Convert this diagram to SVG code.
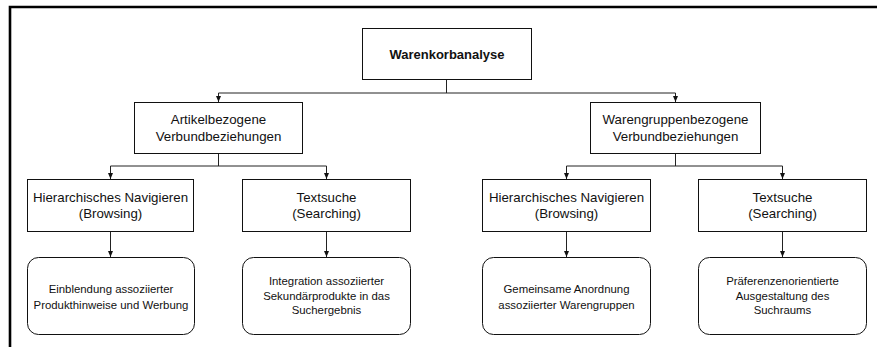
<svg xmlns="http://www.w3.org/2000/svg" width="877" height="347" viewBox="0 0 877 347">
<style>
.box{fill:#fff;stroke:#111;stroke-width:1}
.t{font-family:"Liberation Sans",Arial,sans-serif;font-size:13.3px;fill:#111;text-anchor:middle}
.s{font-family:"Liberation Sans",Arial,sans-serif;font-size:11.4px;fill:#111;text-anchor:middle}
.b{font-family:"Liberation Sans",Arial,sans-serif;font-size:13px;font-weight:bold;fill:#111;text-anchor:middle}
.c{fill:none;stroke:#222;stroke-width:1}
</style>
<defs>
<marker id="ah" viewBox="0 0 6 6" refX="6" refY="3" markerWidth="6" markerHeight="6" markerUnits="userSpaceOnUse" orient="auto">
<path d="M0,0.5 L6,3 L0,5.5 Z" fill="#111"/>
</marker>
</defs>
<rect width="877" height="347" fill="#fff"/>
<path d="M10,347 V7 H877" fill="none" stroke="#000" stroke-width="2.6"/>
<g id="connectors">
<path class="c" d="M446.5,79 V93 M218.5,93 H675.5"/>
<path class="c" d="M218.5,93 V102" marker-end="url(#ah)"/>
<path class="c" d="M675.5,93 V102" marker-end="url(#ah)"/>
<path class="c" d="M218.5,153 V166 M110.5,166 H326.5"/>
<path class="c" d="M110.5,166 V179" marker-end="url(#ah)"/>
<path class="c" d="M326.5,166 V179" marker-end="url(#ah)"/>
<path class="c" d="M675.5,153 V166 M566.5,166 H782.5"/>
<path class="c" d="M566.5,166 V179" marker-end="url(#ah)"/>
<path class="c" d="M782.5,166 V179" marker-end="url(#ah)"/>
<path class="c" d="M110.5,232 V257" marker-end="url(#ah)"/>
<path class="c" d="M326.5,232 V257" marker-end="url(#ah)"/>
<path class="c" d="M566.5,232 V257" marker-end="url(#ah)"/>
<path class="c" d="M782.5,232 V257" marker-end="url(#ah)"/>
</g>
<g id="root">
<rect class="box" x="362.5" y="28.5" width="169" height="51"/>
<text class="b" x="447" y="58.5">Warenkorbanalyse</text>
</g>
<g id="artikel">
<rect class="box" x="134.5" y="102.5" width="168" height="51"/>
<text class="t" x="218.5" y="124">Artikelbezogene</text>
<text class="t" x="218.5" y="141">Verbundbeziehungen</text>
</g>
<g id="warengruppen">
<rect class="box" x="590.5" y="102.5" width="170" height="51"/>
<text class="t" x="675.5" y="124">Warengruppenbezogene</text>
<text class="t" x="675.5" y="141">Verbundbeziehungen</text>
</g>
<g id="browsing1">
<rect class="box" x="27.5" y="179.5" width="166" height="52"/>
<text class="t" x="110.5" y="202">Hierarchisches Navigieren</text>
<text class="t" x="110.5" y="218">(Browsing)</text>
</g>
<g id="searching1">
<rect class="box" x="242.5" y="179.5" width="168" height="52"/>
<text class="t" x="326.5" y="202">Textsuche</text>
<text class="t" x="326.5" y="218">(Searching)</text>
</g>
<g id="browsing2">
<rect class="box" x="482.5" y="179.5" width="168" height="52"/>
<text class="t" x="566.5" y="202">Hierarchisches Navigieren</text>
<text class="t" x="566.5" y="218">(Browsing)</text>
</g>
<g id="searching2">
<rect class="box" x="698.5" y="179.5" width="168" height="52"/>
<text class="t" x="782.5" y="202">Textsuche</text>
<text class="t" x="782.5" y="218">(Searching)</text>
</g>
<g id="einblendung">
<rect class="box" x="27.5" y="257.5" width="167" height="77" rx="11" ry="11"/>
<text class="s" x="111" y="293">Einblendung assoziierter</text>
<text class="s" x="111" y="309">Produkthinweise und Werbung</text>
</g>
<g id="integration">
<rect class="box" x="242.5" y="257.5" width="168" height="77" rx="11" ry="11"/>
<text class="s" x="326.5" y="285">Integration assoziierter</text>
<text class="s" x="326.5" y="299.5">Sekundärprodukte in das</text>
<text class="s" x="326.5" y="314">Suchergebnis</text>
</g>
<g id="anordnung">
<rect class="box" x="482.5" y="257.5" width="168" height="77" rx="11" ry="11"/>
<text class="s" x="566.5" y="293">Gemeinsame Anordnung</text>
<text class="s" x="566.5" y="309">assoziierter Warengruppen</text>
</g>
<g id="suchraum">
<rect class="box" x="698.5" y="257.5" width="168" height="77" rx="11" ry="11"/>
<text class="s" x="782.5" y="285">Präferenzenorientierte</text>
<text class="s" x="782.5" y="299.5">Ausgestaltung des</text>
<text class="s" x="782.5" y="314">Suchraums</text>
</g>
</svg>
